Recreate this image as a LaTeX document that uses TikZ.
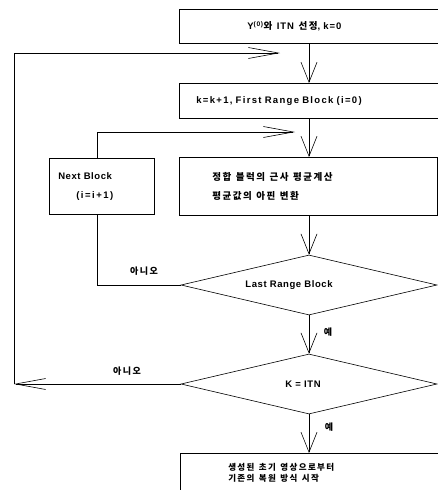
\documentclass[tikz,border=0pt]{standalone}
\usepackage{fontspec}
\setmainfont{Liberation Sans}[LetterSpace=6]
\newfontfamily\kr{Noto Sans CJK KR}[LetterSpace=16]
\newcommand\ksp{\hspace{4.5pt}}
\usetikzlibrary{shapes.geometric,arrows.meta}
\begin{document}
\begin{tikzpicture}[x=1pt,y=-1pt,
  box/.style={draw, rectangle, line width=0.6pt, align=left, inner ysep=0pt, anchor=north west,
    font=\bfseries\fontsize{9.5}{19}\selectfont},
  dec/.style={draw, diamond, aspect=4.27, inner sep=0pt, minimum width=256pt, minimum height=60pt,
    line width=0.6pt, font=\bfseries\fontsize{9.5}{12}\selectfont},
  varr/.style={line width=0.6pt, -{Straight Barb[length=20pt,width=16pt]}},
  harr/.style={line width=0.6pt, -{Straight Barb[length=30pt,width=11pt]}},
  plain/.style={line width=0.6pt},
  lbl/.style={font=\bfseries\kr\fontsize{9}{10}\selectfont, inner sep=0pt}]
\useasboundingbox (0,0) rectangle (438,490);
\clip (0,0) rectangle (438,490);

% boxes
\node[box, minimum width=266pt, minimum height=34pt, inner xsep=68pt, text width=130pt] (b1) at (179,9)
  {\addfontfeature{LetterSpace=10}Y\textsuperscript{(0)}{\kr 와}\ksp ITN\ksp{\kr 선정}, k=0};
\node[box, minimum width=266pt, minimum height=35pt, inner xsep=17pt, text width=232pt] (b2) at (179,83)
  {\addfontfeature{LetterSpace=14}k=k+1, First Range Block (i=0)};
\node[box, minimum width=258pt, minimum height=58pt, inner xsep=33pt, text width=192pt] (b3) at (179,157)
  {{\kr 정합\ksp 블럭의\ksp 근사\ksp 평균계산}\\{\kr 평균값의\ksp 아핀\ksp 변환}};
\node[box, minimum width=105pt, minimum height=56pt, inner xsep=9pt, text width=87pt] (nb) at (49,158)
  {Next Block\\\hspace*{18pt}{\addfontfeature{LetterSpace=16}(i=i+1)}};
\node[box, minimum width=265pt, inner xsep=48pt, inner ysep=6pt, text width=169pt,
  text height=11pt, text depth=50pt, font=\bfseries\kr\fontsize{8.5}{11}\selectfont] (b4) at (180,453)
  {생성된\ksp 초기\ksp 영상으로부터\\기존의\ksp 복원\ksp 방식\ksp 시작};

% decisions
\node[dec] (d1) at (309,285) {Last Range Block\hspace*{40pt}};
\node[dec] (d2) at (309,384) {K = ITN\hspace*{12pt}};

% free ends
\coordinate (cT) at (280,53);
\coordinate (cN) at (295,132);
\coordinate (cL) at (14,384);

% main trunk
\draw[varr] (b1.south -| d1.north) -- (b2.north -| d1.north);
\draw[varr] (b2.south -| d1.north) -- (b3.north -| d1.north);
\draw[varr] (b3.south -| d1.north) -- (d1.north);
\draw[varr] (d1.south) -- (d2.north);
\draw[varr] (d2.south) -- (b4.north -| d2.south);

% loops
\draw[plain] ([xshift=-4.5pt]nb.south) |- (d1.west);
\draw[harr] ([xshift=-4.5pt]nb.north) |- (cN);
\draw[harr] (d2.west) -- (cL);
\draw[harr] (cL) |- (cT);

% labels
\node[lbl] (no1) at (144,271) {아니오};
\node[lbl] (no2) at (127,371) {아니오};
\node[lbl] (yes1) at (328,332) {예};
\node[lbl] (yes2) at (329,427) {예};
\end{tikzpicture}
\end{document}
